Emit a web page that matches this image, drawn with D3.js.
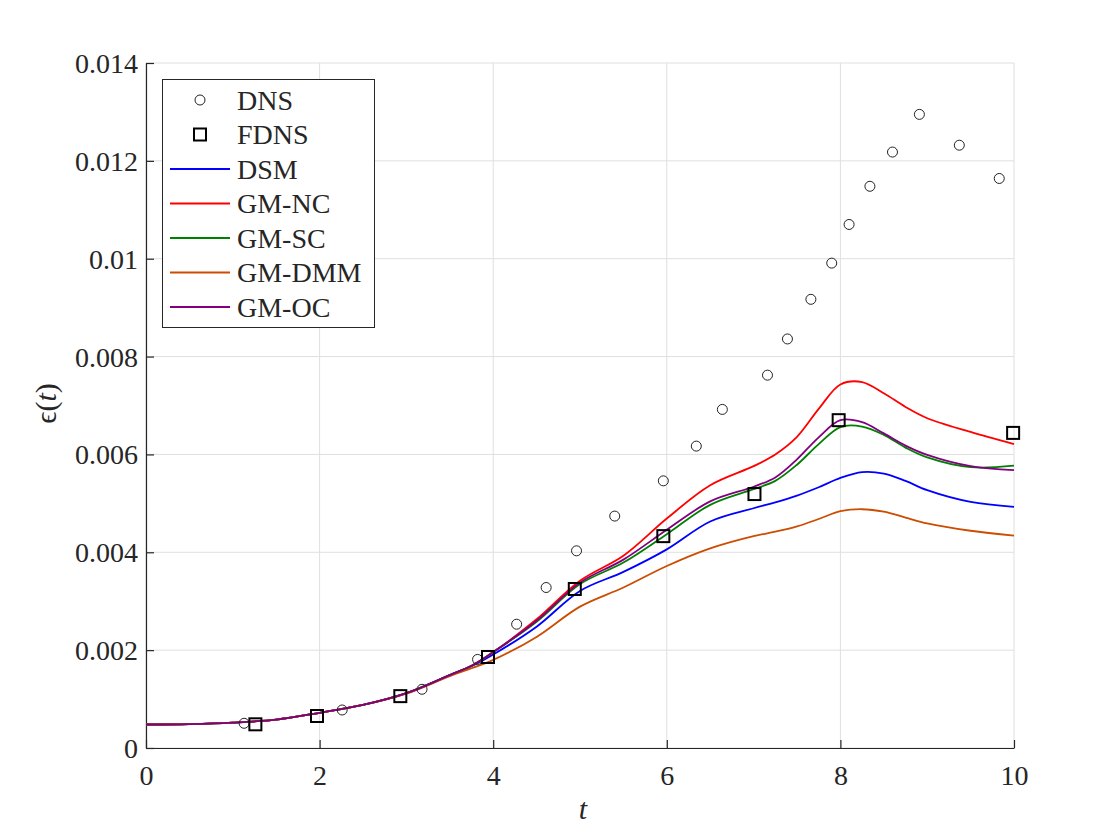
<!DOCTYPE html>
<html>
<head>
<meta charset="utf-8">
<script src="https://cdn.jsdelivr.net/npm/d3@7"></script>
<style>
  html, body { margin: 0; padding: 0; background: #fff; }
  svg text { font-family: "Liberation Serif", "Times New Roman", serif; fill: #262626; }
</style>
</head>
<body>
<div id="chart"></div>
<script>
// ─── Data ────────────────────────────────────────────────────────────────────
const dnsT = [1.13, 2.26, 3.18, 3.82, 4.27, 4.61, 4.96, 5.40, 5.96, 6.34, 6.64, 7.16,
              7.39, 7.66, 7.90, 8.10, 8.34, 8.60, 8.91, 9.37, 9.83];
const dnsE = [0.000505, 0.000777, 0.00120, 0.00181, 0.00253, 0.00328, 0.00403, 0.00474,
              0.00546, 0.00617, 0.00692, 0.00762, 0.00836, 0.00917, 0.00991, 0.01070,
              0.01148, 0.01218, 0.01295, 0.01232, 0.01164];

const fdnsT = [1.26, 1.97, 2.93, 3.94, 4.94, 5.96, 7.01, 7.98, 9.99];
const fdnsE = [0.000484, 0.000654, 0.00106, 0.00186, 0.00325, 0.00433, 0.00519, 0.00670, 0.00644];

const modelT = [0, 0.5, 1, 1.5, 2, 2.5, 3, 3.5, 3.75, 4, 4.5, 5, 5.5, 6, 6.5, 7, 7.25,
                7.5, 7.75, 8, 8.25, 8.5, 8.75, 9, 9.5, 10];

const dsmE  = [0.00048, 0.00049, 0.00052, 0.00058, 0.00072, 0.00088, 0.00112, 0.00149, 0.00167,
               0.00191, 0.00248, 0.00321, 0.00360, 0.00406, 0.00463, 0.00490, 0.00502,
               0.00516, 0.00533, 0.00552, 0.00564, 0.00561, 0.00546, 0.00527, 0.00503, 0.00493];
const gmncE = [0.00048, 0.00049, 0.00052, 0.00058, 0.00072, 0.00088, 0.00112, 0.00149, 0.00168,
               0.00196, 0.00263, 0.00342, 0.00393, 0.00469, 0.00537, 0.00576, 0.00600,
               0.00636, 0.00693, 0.00743, 0.00748, 0.00725, 0.00697, 0.00674, 0.00646, 0.00621];
const gmscE = [0.00048, 0.00049, 0.00052, 0.00058, 0.00072, 0.00088, 0.00112, 0.00149, 0.00168,
               0.00196, 0.00258, 0.00335, 0.00379, 0.00437, 0.00497, 0.00529, 0.00546,
               0.00579, 0.00621, 0.00656, 0.00657, 0.00640, 0.00614, 0.00594, 0.00574, 0.00577];
const gmdmmE = [0.00048, 0.00049, 0.00052, 0.00058, 0.00072, 0.00088, 0.00111, 0.00147, 0.00163,
               0.00180, 0.00227, 0.00289, 0.00328, 0.00372, 0.00408, 0.00433, 0.00442,
               0.00453, 0.00468, 0.00484, 0.00488, 0.00483, 0.00471, 0.00459, 0.00444, 0.00434];
const gmocE = [0.00048, 0.00049, 0.00052, 0.00058, 0.00072, 0.00088, 0.00112, 0.00149, 0.00168,
               0.00196, 0.00260, 0.00338, 0.00385, 0.00446, 0.00504, 0.00534, 0.00553,
               0.00590, 0.00635, 0.00670, 0.00666, 0.00643, 0.00618, 0.00599, 0.00576, 0.00568];

const seriesNames  = ['DSM', 'GM-NC', 'GM-SC', 'GM-DMM', 'GM-OC'];
const seriesColors = ['#0000ff', '#ff0000', '#008000', '#cc4c00', '#800080'];
const seriesValues = [dsmE, gmncE, gmscE, gmdmmE, gmocE];

const xTicks = [0, 2, 4, 6, 8, 10];
const yTicks = [0, 0.002, 0.004, 0.006, 0.008, 0.010, 0.012, 0.014];
const yTickLabels = ['0', '0.002', '0.004', '0.006', '0.008', '0.01', '0.012', '0.014'];

// ─── Layout ──────────────────────────────────────────────────────────────────
const W = 1120, H = 840;
const L = 146, R = 1014, T = 63, B = 748;
const AXIS = '#262626', GRID = '#dfdfdf';
const FONT = 28;

const svg = d3.select('#chart').append('svg').attr('width', W).attr('height', H);

const x = d3.scaleLinear().domain([0, 10]).range([L, R]);
const y = d3.scaleLinear().domain([0, 0.014]).range([B, T]);

// Grid
const grid = svg.append('g');
grid.selectAll('.gx').data(xTicks).enter().append('line')
    .attr('x1', d => x(d)).attr('x2', d => x(d)).attr('y1', T).attr('y2', B)
    .attr('stroke', GRID).attr('stroke-width', 1);
grid.selectAll('.gy').data(yTicks).enter().append('line')
    .attr('x1', L).attr('x2', R).attr('y1', d => y(d)).attr('y2', d => y(d))
    .attr('stroke', GRID).attr('stroke-width', 1);

// Axes (MATLAB style: inward ticks, no box)
const xAxis = d3.axisBottom(x).tickValues(xTicks).tickSizeInner(-8).tickSizeOuter(0).tickPadding(18)
    .tickFormat(d3.format('d'));
const yAxis = d3.axisLeft(y).tickValues(yTicks).tickSizeInner(-8).tickSizeOuter(0).tickPadding(8)
    .tickFormat((d, i) => yTickLabels[i]);

const gx = svg.append('g').attr('transform', `translate(0,${B})`).call(xAxis);
const gy = svg.append('g').attr('transform', `translate(${L},0)`).call(yAxis);
[gx, gy].forEach(g => {
    g.select('.domain').attr('stroke', AXIS).attr('stroke-width', 1.2);
    g.selectAll('.tick line').attr('stroke', AXIS).attr('stroke-width', 1.2);
    g.selectAll('.tick text').style('font-size', FONT + 'px').style('font-family', '"Liberation Serif", serif')
        .attr('fill', AXIS);
});
gx.selectAll('.tick text').attr('dy', '0.68em');
gy.selectAll('.tick text').attr('dy', '0.34em');

// Axis labels
svg.append('text').attr('x', (L + R) / 2 + 3).attr('y', 819).attr('text-anchor', 'middle')
    .style('font-size', '30px').style('font-style', 'italic').text('t');
svg.append('text').attr('transform', `translate(56,${(T + B) / 2 - 2}) rotate(-90)`)
    .attr('text-anchor', 'middle').style('font-size', '30px')
    .html('<tspan font-style="normal">ϵ(</tspan><tspan font-style="italic">t</tspan><tspan>)</tspan>');

// Model lines
const line = d3.line().x((d, i) => x(modelT[i])).y(d => y(d)).curve(d3.curveCatmullRom.alpha(0.5));
seriesValues.forEach((vals, k) => {
    svg.append('path').datum(vals)
        .attr('d', line)
        .attr('fill', 'none')
        .attr('stroke', seriesColors[k])
        .attr('stroke-width', 1.8);
});

// DNS circles
svg.append('g').selectAll('circle').data(dnsT).enter().append('circle')
    .attr('cx', d => x(d)).attr('cy', (d, i) => y(dnsE[i])).attr('r', 5)
    .attr('fill', 'none').attr('stroke', '#222').attr('stroke-width', 1);

// FDNS squares
const SQ = 12;
svg.append('g').selectAll('rect').data(fdnsT).enter().append('rect')
    .attr('x', d => x(d) - SQ / 2).attr('y', (d, i) => y(fdnsE[i]) - SQ / 2)
    .attr('width', SQ).attr('height', SQ)
    .attr('fill', 'none').attr('stroke', '#000').attr('stroke-width', 2);

// Legend
const lg = svg.append('g');
lg.append('rect').attr('x', 162.5).attr('y', 79.5).attr('width', 212).attr('height', 248)
    .attr('fill', '#fff').attr('stroke', AXIS).attr('stroke-width', 1);
const rowY = i => 100 + i * 34.5;
const legendNames = ['DNS', 'FDNS'].concat(seriesNames);
legendNames.forEach((name, i) => {
    const yy = rowY(i);
    if (i === 0) {
        lg.append('circle').attr('cx', 200).attr('cy', yy).attr('r', 5)
            .attr('fill', 'none').attr('stroke', '#222').attr('stroke-width', 1);
    } else if (i === 1) {
        lg.append('rect').attr('x', 200 - SQ / 2).attr('y', yy - SQ / 2).attr('width', SQ).attr('height', SQ)
            .attr('fill', 'none').attr('stroke', '#000').attr('stroke-width', 2);
    } else {
        lg.append('line').attr('x1', 170).attr('x2', 230).attr('y1', yy).attr('y2', yy)
            .attr('stroke', seriesColors[i - 2]).attr('stroke-width', 1.8);
    }
    lg.append('text').attr('x', 237).attr('y', yy).attr('dy', '0.35em')
        .style('font-size', FONT + 'px').text(name);
});
</script>
</body>
</html>
